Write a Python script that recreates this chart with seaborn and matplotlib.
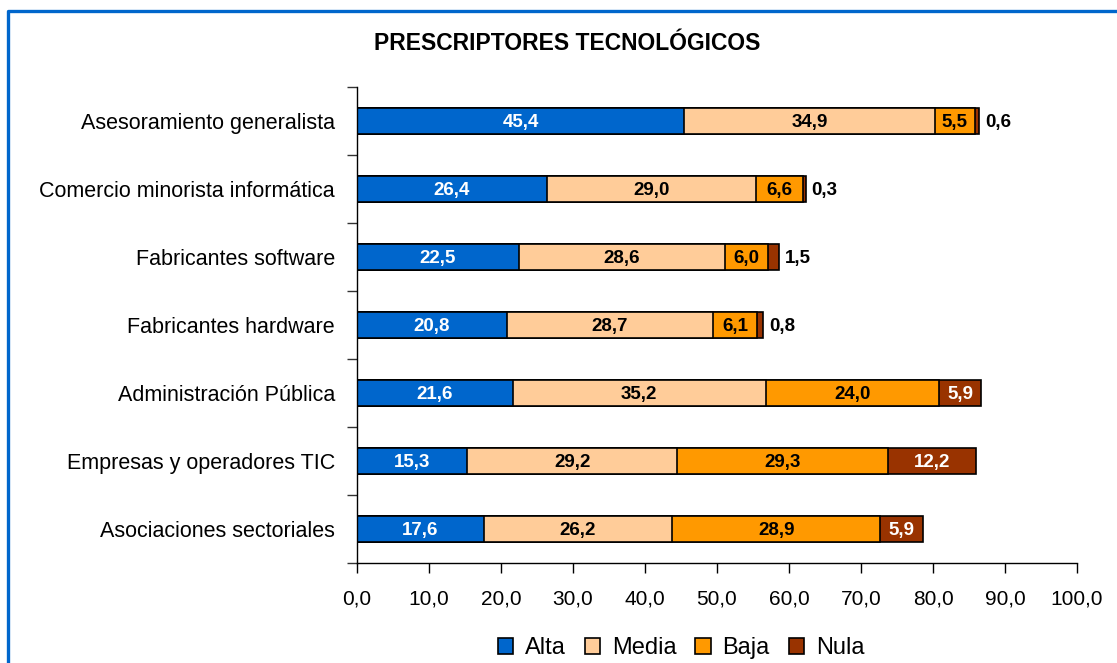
import numpy as np
import pandas as pd
import matplotlib
matplotlib.use("Agg")
import matplotlib.pyplot as plt
from matplotlib.lines import Line2D
from matplotlib.patches import Patch
import seaborn as sns

# === Data ===
categories = [
    "Asesoramiento generalista",
    "Comercio minorista informática",
    "Fabricantes software",
    "Fabricantes hardware",
    "Administración Pública",
    "Empresas y operadores TIC",
    "Asociaciones sectoriales",
]
alta = [45.4, 26.4, 22.5, 20.8, 21.6, 15.3, 17.6]
media = [34.9, 29.0, 28.6, 28.7, 35.2, 29.2, 26.2]
baja = [5.5, 6.6, 6.0, 6.1, 24.0, 29.3, 28.9]
nula = [0.6, 0.3, 1.5, 0.8, 5.9, 12.2, 5.9]
series_names = ["Alta", "Media", "Baja", "Nula"]
colors = ["#0066CC", "#FFCC99", "#FF9900", "#993300"]
xticks = [0, 10, 20, 30, 40, 50, 60, 70, 80, 90, 100]

sns.set_style("white")
plt.rcParams["font.family"] = ["Liberation Sans", "DejaVu Sans"]
plt.rcParams.update({"text.color": "black", "axes.labelcolor": "black",
                     "xtick.color": "black", "ytick.color": "black"})

df = pd.DataFrame({"cat": categories, "Alta": alta, "Media": media,
                   "Baja": baja, "Nula": nula})
cum = df[series_names].cumsum(axis=1)

fig = plt.figure(figsize=(11.17, 6.63), dpi=100)
ax = fig.add_axes([357 / 1117, 100 / 663, 720 / 1117, 476 / 663])

# stacked bars: draw cumulative totals from the longest to the shortest
for name, col in reversed(list(zip(series_names, colors))):
    sns.barplot(x=cum[name], y=df["cat"], order=categories, orient="h",
                color=col, edgecolor="black", linewidth=1.2, width=0.39,
                saturation=1, ax=ax)

# value labels
for i in range(len(categories)):
    left = 0
    for name in series_names:
        v = df.loc[i, name]
        txt = f"{v:.1f}".replace(".", ",")
        if name == "Nula" and v < 3:
            ax.text(left + v + 0.8, i, txt, ha="left", va="center_baseline",
                    fontsize=13.5, fontweight="bold", color="black")
        else:
            c = "white" if name in ("Alta", "Nula") else "black"
            ax.text(left + v / 2, i, txt, ha="center", va="center_baseline",
                    fontsize=13.5, fontweight="bold", color=c)
        left += v

ax.set_xlim(0, 100)
ax.set_ylim(6.5, -0.5)
ax.set_xticks(xticks)
ax.set_xticklabels([f"{t:.1f}".replace(".", ",") for t in xticks], fontsize=15)
ax.set_yticks(range(len(categories)))
ax.set_yticklabels(categories, fontsize=15.5)
ax.set_yticks(np.arange(-0.5, len(categories), 1), minor=True)
ax.tick_params(axis="y", which="major", left=False, length=0, pad=16)
ax.tick_params(axis="y", which="minor", left=True, length=7, width=1,
               direction="out", color="#333333")
ax.tick_params(axis="x", bottom=True, length=7, width=1, direction="out",
               pad=12, color="black")
ax.set_xlabel("")
ax.set_ylabel("")
for s in ["top", "right"]:
    ax.spines[s].set_visible(False)
for s in ["left", "bottom"]:
    ax.spines[s].set_color("black")
    ax.spines[s].set_linewidth(1)

fig.text(567 / 1117, 1 - 44 / 663, "PRESCRIPTORES TECNOLÓGICOS", ha="center",
         va="center", fontsize=16.5, fontweight="bold", color="black")

handles = [Patch(facecolor=c, edgecolor="black", linewidth=1.2) for c in colors]
fig.legend(handles, series_names, loc="center", ncol=4, frameon=False,
           bbox_to_anchor=(681 / 1117, 1 - 648 / 663), fontsize=17,
           handlelength=0.65, handleheight=0.65, handletextpad=0.5,
           columnspacing=0.8)

# blue frame (top and left only)
x0, y0 = 8 / 1117, 1 - 11 / 663
fig.add_artist(Line2D([x0, x0, 1.0], [0, y0, y0], color="#0066CC", lw=2.4,
                      transform=fig.transFigure))

fig.savefig("out.png", dpi=100)
